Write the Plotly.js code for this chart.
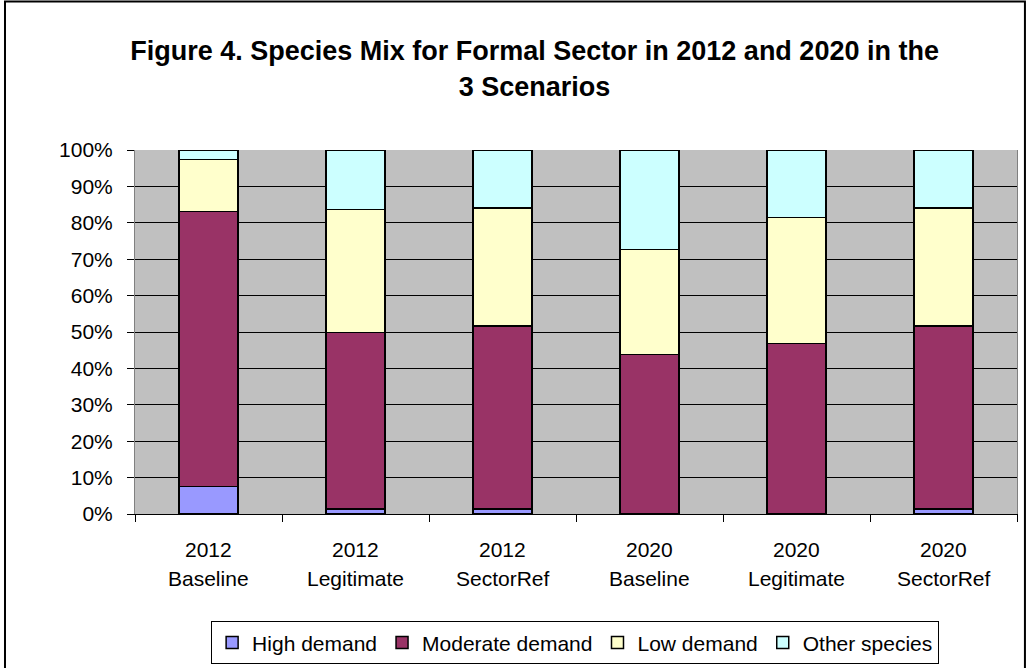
<!DOCTYPE html>
<html>
<head>
<meta charset="utf-8">
<script src="https://cdn.plot.ly/plotly-3.0.1.min.js"></script>
<style>html,body{margin:0;padding:0;background:#fff;}#chart{width:1028px;height:668px;}</style>
</head>
<body>
<div id="chart"></div>
<script>
const categories = ["2012 Baseline", "2012 Legitimate", "2012 SectorRef", "2020 Baseline", "2020 Legitimate", "2020 SectorRef"];
const years = ["2012", "2012", "2012", "2020", "2020", "2020"];
const scenarios = ["Baseline", "Legitimate", "SectorRef", "Baseline", "Legitimate", "SectorRef"];
const highDemand = [7.6, 1.4, 1.4, 0, 0, 1.4];
const moderateDemand = [75.5, 48.5, 50.2, 43.8, 46.8, 50.2];
const lowDemand = [14.3, 33.7, 32.4, 28.9, 34.7, 32.4];
const otherSpecies = [2.6, 16.4, 16.0, 27.3, 18.5, 16.0];
const seriesNames = ["High demand", "Moderate demand", "Low demand", "Other species"];
const yTickVals = [0, 10, 20, 30, 40, 50, 60, 70, 80, 90, 100];
const yTickText = ["0%", "10%", "20%", "30%", "40%", "50%", "60%", "70%", "80%", "90%", "100%"];

const colors = ["#9999FF", "#993366", "#FFFFCC", "#CCFFFF"];
const seriesValues = [highDemand, moderateDemand, lowDemand, otherSpecies];
const font = "Arial, 'Liberation Sans', sans-serif";

const traces = seriesValues.map((vals, i) => ({
  type: "bar",
  name: seriesNames[i],
  x: categories,
  y: vals,
  marker: {color: colors[i], line: {color: "#000000", width: 1.5}},
  hoverinfo: "skip"
}));

const annotations = [];
categories.forEach((c, i) => {
  annotations.push({xref: "x", yref: "paper", x: c, y: -0.0975, yanchor: "middle", xanchor: "center",
    text: years[i], showarrow: false, font: {family: font, size: 21, color: "#000"}});
  annotations.push({xref: "x", yref: "paper", x: c, y: -0.177, yanchor: "middle", xanchor: "center",
    text: scenarios[i], showarrow: false, font: {family: font, size: 21, color: "#000"}});
});

const layout = {
  width: 1028, height: 668,
  margin: {l: 135, r: 11, t: 150, b: 153.5, pad: 0, autoexpand: false},
  paper_bgcolor: "#ffffff",
  plot_bgcolor: "#C0C0C0",
  barmode: "stack",
  bargap: 0.6,
  font: {family: font, size: 21, color: "#000"},
  title: {
    text: "<b>Figure 4. Species Mix for Formal Sector in 2012 and 2020 in the<br>3 Scenarios</b>",
    font: {family: font, size: 27, color: "#000"},
    x: 0.52, xref: "container", xanchor: "center",
    y: 0.9095, yref: "container", yanchor: "middle"
  },
  xaxis: {
    type: "category",
    showticklabels: false,
    ticks: "outside", ticklen: 7, tickcolor: "#000", tickwidth: 1,
    tickson: "boundaries",
    showline: true, linecolor: "#000", linewidth: 1,
    showgrid: false, zeroline: false, fixedrange: true
  },
  yaxis: {
    range: [0, 100],
    tickvals: yTickVals, ticktext: yTickText,
    ticks: "outside", ticklen: 7, tickcolor: "#000", tickwidth: 1,
    ticklabelstandoff: 10,
    tickfont: {family: font, size: 21, color: "#000"},
    showgrid: true, gridcolor: "#000000", gridwidth: 1,
    showline: true, linecolor: "#808080", linewidth: 1, mirror: true,
    zeroline: false, fixedrange: true
  },
  legend: {
    orientation: "h", x: 0.499, xanchor: "center", y: -0.295, yanchor: "top",
    traceorder: "normal",
    bordercolor: "#000", borderwidth: 1, bgcolor: "#fff",
    font: {family: font, size: 21, color: "#000"}
  },
  annotations: annotations,
  shapes: [{
    type: "rect", xref: "paper", yref: "paper",
    x0: -0.1474, x1: 1.009, y0: -0.46, y1: 1.408,
    line: {color: "#000", width: 2}, fillcolor: "rgba(0,0,0,0)", layer: "below"
  }],
  showlegend: true
};

Plotly.newPlot("chart", traces, layout, {displayModeBar: false, staticPlot: true});
</script>
</body>
</html>
